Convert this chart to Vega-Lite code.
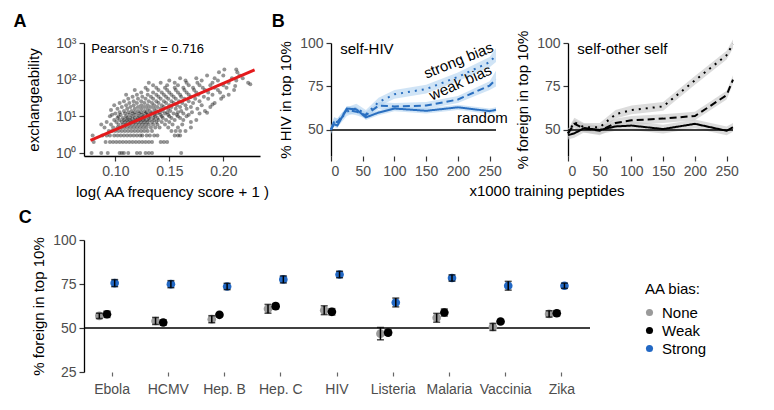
{
"$schema":"https://vega.github.io/schema/vega-lite/v6.json",
"background":"white",
"padding":{"left":13,"top":13,"right":0,"bottom":0},
"config":{
 "font":"Liberation Sans",
 "view":{"stroke":null},
 "axis":{"labelFont":"Liberation Sans","labelFontSize":14,"labelColor":"#4d4d4d","titleFont":"Liberation Sans","titleFontSize":15,"titleFontWeight":"normal","titleColor":"#000","domainColor":"#000","domainWidth":1.3,"tickColor":"#333","tickWidth":1.2,"tickSize":5,"grid":false,"labelPadding":3},
 "title":{"font":"Liberation Sans","fontSize":18,"fontWeight":"bold","anchor":"start","color":"#000"},
 "legend":{"labelFont":"Liberation Sans","titleFont":"Liberation Sans"}
},
"datasets":{
 "scatter":[
{"x":0.078,"y":1},{"x":0.087,"y":1},{"x":0.093,"y":1},{"x":0.104,"y":1},{"x":0.106,"y":1},{"x":0.108,"y":1},{"x":0.112,"y":1},{"x":0.120,"y":1},{"x":0.123,"y":1},{"x":0.128,"y":1},{"x":0.131,"y":1},{"x":0.134,"y":1},{"x":0.161,"y":1},
{"x":0.080,"y":2},{"x":0.091,"y":2},{"x":0.095,"y":2},{"x":0.098,"y":2},{"x":0.101,"y":2},{"x":0.104,"y":2},{"x":0.107,"y":2},{"x":0.110,"y":2},{"x":0.113,"y":2},{"x":0.116,"y":2},{"x":0.119,"y":2},{"x":0.122,"y":2},{"x":0.125,"y":2},{"x":0.128,"y":2},{"x":0.131,"y":2},{"x":0.134,"y":2},{"x":0.142,"y":2},{"x":0.145,"y":2},{"x":0.148,"y":2},
{"x":0.079,"y":3},{"x":0.088,"y":3},{"x":0.092,"y":3},{"x":0.095,"y":3},{"x":0.099,"y":3},{"x":0.102,"y":3},{"x":0.105,"y":3},{"x":0.108,"y":3},{"x":0.111,"y":3},{"x":0.114,"y":3},{"x":0.117,"y":3},{"x":0.120,"y":3},{"x":0.123,"y":3},{"x":0.125,"y":3},{"x":0.129,"y":3},{"x":0.132,"y":3},{"x":0.136,"y":3},{"x":0.139,"y":3},{"x":0.155,"y":3},{"x":0.158,"y":3},{"x":0.160,"y":3},
{"x":0.094,"y":4},{"x":0.097,"y":4},{"x":0.100,"y":4},{"x":0.103,"y":4},{"x":0.106,"y":4},{"x":0.109,"y":4},{"x":0.112,"y":4},{"x":0.115,"y":4},{"x":0.118,"y":4},{"x":0.121,"y":4},{"x":0.124,"y":4},{"x":0.127,"y":4},{"x":0.130,"y":4},{"x":0.134,"y":4},{"x":0.152,"y":4},{"x":0.156,"y":4},{"x":0.160,"y":4},{"x":0.165,"y":4},
{"x":0.090,"y":5},{"x":0.098,"y":5},{"x":0.102,"y":5},{"x":0.105,"y":5},{"x":0.108,"y":5},{"x":0.111,"y":5},{"x":0.114,"y":5},{"x":0.117,"y":5},{"x":0.120,"y":5},{"x":0.123,"y":5},{"x":0.126,"y":5},{"x":0.129,"y":5},{"x":0.133,"y":5},{"x":0.137,"y":5},{"x":0.141,"y":5},{"x":0.149,"y":5},{"x":0.158,"y":5},{"x":0.170,"y":5},
{"x":0.087,"y":6},{"x":0.096,"y":6},{"x":0.103,"y":6},{"x":0.107,"y":6},{"x":0.110,"y":6},{"x":0.113,"y":6},{"x":0.116,"y":6},{"x":0.119,"y":6},{"x":0.122,"y":6},{"x":0.125,"y":6},{"x":0.128,"y":6},{"x":0.131,"y":6},{"x":0.135,"y":6},{"x":0.139,"y":6},{"x":0.146,"y":6},{"x":0.153,"y":6},{"x":0.162,"y":6},
{"x":0.092,"y":7},{"x":0.101,"y":7},{"x":0.106,"y":7},{"x":0.109,"y":7},{"x":0.112,"y":7},{"x":0.115,"y":7},{"x":0.118,"y":7},{"x":0.121,"y":7},{"x":0.124,"y":7},{"x":0.127,"y":7},{"x":0.130,"y":7},{"x":0.134,"y":7},{"x":0.138,"y":7},{"x":0.143,"y":7},{"x":0.150,"y":7},{"x":0.170,"y":7},
{"x":0.099,"y":8},{"x":0.104,"y":8},{"x":0.108,"y":8},{"x":0.111,"y":8},{"x":0.114,"y":8},{"x":0.117,"y":8},{"x":0.120,"y":8},{"x":0.123,"y":8},{"x":0.126,"y":8},{"x":0.129,"y":8},{"x":0.132,"y":8},{"x":0.136,"y":8},{"x":0.140,"y":8},{"x":0.147,"y":8},{"x":0.155,"y":8},{"x":0.163,"y":8},{"x":0.175,"y":8},
{"x":0.102,"y":9},{"x":0.107,"y":9},{"x":0.111,"y":9},{"x":0.114,"y":9},{"x":0.118,"y":9},{"x":0.121,"y":9},{"x":0.124,"y":9},{"x":0.127,"y":9},{"x":0.131,"y":9},{"x":0.135,"y":9},{"x":0.139,"y":9},{"x":0.144,"y":9},{"x":0.152,"y":9},{"x":0.160,"y":9},
{"x":0.095,"y":10},{"x":0.103,"y":10},{"x":0.110,"y":10},{"x":0.116,"y":10},{"x":0.122,"y":10},{"x":0.126,"y":10},{"x":0.132,"y":10},{"x":0.137,"y":10},{"x":0.143,"y":10},{"x":0.150,"y":10},{"x":0.158,"y":10},{"x":0.166,"y":10},{"x":0.185,"y":12.6},
{"x":0.097,"y":11},{"x":0.105,"y":11},{"x":0.113,"y":11},{"x":0.119,"y":11},{"x":0.125,"y":11},{"x":0.130,"y":11},{"x":0.136,"y":11},{"x":0.142,"y":11},{"x":0.149,"y":11},{"x":0.157,"y":11},{"x":0.168,"y":11},
{"x":0.100,"y":12},{"x":0.109,"y":12},{"x":0.116,"y":12},{"x":0.122,"y":12},{"x":0.128,"y":12},{"x":0.133,"y":12},{"x":0.139,"y":12},{"x":0.146,"y":12},{"x":0.154,"y":12},{"x":0.163,"y":12},{"x":0.178,"y":12},
{"x":0.104,"y":13},{"x":0.112,"y":13},{"x":0.118,"y":13},{"x":0.124,"y":13},{"x":0.129,"y":13},{"x":0.135,"y":13},{"x":0.141,"y":13},{"x":0.148,"y":13},{"x":0.158,"y":13},{"x":0.171,"y":13},
{"x":0.096,"y":15},{"x":0.108,"y":14},{"x":0.115,"y":14},{"x":0.121,"y":14},{"x":0.127,"y":14},{"x":0.132,"y":14},{"x":0.138,"y":14},{"x":0.144,"y":14},{"x":0.151,"y":14},{"x":0.161,"y":14},{"x":0.183,"y":14},
{"x":0.102,"y":16},{"x":0.111,"y":16},{"x":0.118,"y":16},{"x":0.124,"y":16},{"x":0.130,"y":16},{"x":0.136,"y":16},{"x":0.142,"y":16},{"x":0.149,"y":16},{"x":0.156,"y":16},{"x":0.166,"y":16},{"x":0.176,"y":16},
{"x":0.106,"y":18},{"x":0.114,"y":18},{"x":0.121,"y":18},{"x":0.127,"y":18},{"x":0.133,"y":18},{"x":0.139,"y":18},{"x":0.145,"y":18},{"x":0.152,"y":18},{"x":0.160,"y":18},{"x":0.170,"y":18},{"x":0.188,"y":18},
{"x":0.099,"y":20},{"x":0.110,"y":20},{"x":0.117,"y":20},{"x":0.124,"y":20},{"x":0.130,"y":20},{"x":0.136,"y":20},{"x":0.143,"y":20},{"x":0.150,"y":20},{"x":0.157,"y":20},{"x":0.165,"y":20},{"x":0.180,"y":20},{"x":0.190,"y":21},
{"x":0.104,"y":23},{"x":0.113,"y":23},{"x":0.120,"y":23},{"x":0.127,"y":23},{"x":0.134,"y":23},{"x":0.140,"y":23},{"x":0.147,"y":23},{"x":0.154,"y":23},{"x":0.162,"y":23},{"x":0.172,"y":23},{"x":0.192,"y":23},
{"x":0.108,"y":26},{"x":0.117,"y":26},{"x":0.124,"y":26},{"x":0.131,"y":26},{"x":0.138,"y":26},{"x":0.145,"y":26},{"x":0.152,"y":26},{"x":0.159,"y":26},{"x":0.168,"y":26},{"x":0.178,"y":26},
{"x":0.112,"y":30},{"x":0.121,"y":30},{"x":0.128,"y":30},{"x":0.135,"y":30},{"x":0.142,"y":30},{"x":0.149,"y":30},{"x":0.156,"y":30},{"x":0.164,"y":30},{"x":0.174,"y":30},{"x":0.186,"y":30},{"x":0.198,"y":30},
{"x":0.116,"y":34},{"x":0.125,"y":34},{"x":0.133,"y":34},{"x":0.140,"y":34},{"x":0.147,"y":34},{"x":0.154,"y":34},{"x":0.161,"y":34},{"x":0.170,"y":34},{"x":0.182,"y":34},{"x":0.200,"y":35},
{"x":0.110,"y":39},{"x":0.120,"y":39},{"x":0.130,"y":39},{"x":0.138,"y":39},{"x":0.145,"y":39},{"x":0.152,"y":39},{"x":0.160,"y":39},{"x":0.168,"y":39},{"x":0.177,"y":39},{"x":0.190,"y":39},{"x":0.205,"y":39},
{"x":0.124,"y":45},{"x":0.135,"y":45},{"x":0.143,"y":45},{"x":0.150,"y":45},{"x":0.158,"y":45},{"x":0.166,"y":45},{"x":0.175,"y":45},{"x":0.186,"y":45},{"x":0.197,"y":45},
{"x":0.118,"y":52},{"x":0.130,"y":52},{"x":0.140,"y":52},{"x":0.148,"y":52},{"x":0.156,"y":52},{"x":0.164,"y":52},{"x":0.173,"y":52},{"x":0.183,"y":52},{"x":0.195,"y":52},{"x":0.210,"y":52},
{"x":0.128,"y":60},{"x":0.138,"y":60},{"x":0.146,"y":60},{"x":0.155,"y":60},{"x":0.163,"y":60},{"x":0.172,"y":60},{"x":0.181,"y":60},{"x":0.192,"y":60},{"x":0.203,"y":60},{"x":0.211,"y":67},
{"x":0.135,"y":70},{"x":0.148,"y":70},{"x":0.158,"y":70},{"x":0.168,"y":70},{"x":0.178,"y":70},{"x":0.188,"y":70},{"x":0.200,"y":70},{"x":0.225,"y":75},
{"x":0.131,"y":82},{"x":0.142,"y":82},{"x":0.155,"y":82},{"x":0.166,"y":82},{"x":0.176,"y":82},{"x":0.190,"y":82},{"x":0.205,"y":82},{"x":0.223,"y":82},
{"x":0.150,"y":95},{"x":0.165,"y":95},{"x":0.180,"y":95},{"x":0.195,"y":95},{"x":0.212,"y":95},
{"x":0.160,"y":110},{"x":0.175,"y":110},{"x":0.192,"y":110},{"x":0.208,"y":110},{"x":0.218,"y":110},
{"x":0.185,"y":130},{"x":0.200,"y":130},{"x":0.215,"y":130},
{"x":0.196,"y":160},{"x":0.213,"y":160},{"x":0.201,"y":190},{"x":0.212,"y":190}
 ],
 "fit":[{"x":0.077,"y":2.2},{"x":0.229,"y":185}],
 "annA":[{"x":0.0778,"y":680,"label":"Pearson's r = 0.716"}],
 "hiv":[
{"bias":"random","x":0,"y":50.4,"lo":49,"hi":52},{"bias":"random","x":5,"y":53.3,"lo":51.8,"hi":54.8},{"bias":"random","x":10,"y":52.5,"lo":51,"hi":54},{"bias":"random","x":25,"y":62.3,"lo":60.8,"hi":63.8},{"bias":"random","x":40,"y":61.8,"lo":60.3,"hi":63.3},{"bias":"random","x":55,"y":57.2,"lo":55.7,"hi":58.7},{"bias":"random","x":75,"y":60,"lo":58.5,"hi":61.5},{"bias":"random","x":100,"y":62.3,"lo":60.8,"hi":63.8},{"bias":"random","x":150,"y":61,"lo":59.5,"hi":62.5},{"bias":"random","x":200,"y":63,"lo":61.5,"hi":64.5},{"bias":"random","x":250,"y":60.8,"lo":59.3,"hi":62.3},{"bias":"random","x":260,"y":61.6,"lo":60.1,"hi":63.1},
{"bias":"weak","x":0,"y":50,"lo":48,"hi":52},{"bias":"weak","x":5,"y":55,"lo":53,"hi":57},{"bias":"weak","x":10,"y":54.5,"lo":52.5,"hi":56.5},{"bias":"weak","x":25,"y":61.5,"lo":59.5,"hi":63.5},{"bias":"weak","x":40,"y":60.5,"lo":58.5,"hi":62.5},{"bias":"weak","x":55,"y":58.5,"lo":56.5,"hi":60.5},{"bias":"weak","x":75,"y":64,"lo":62,"hi":66},{"bias":"weak","x":100,"y":63.5,"lo":61.5,"hi":65.5},{"bias":"weak","x":150,"y":64,"lo":62,"hi":66},{"bias":"weak","x":200,"y":67.5,"lo":65.5,"hi":69.5},{"bias":"weak","x":250,"y":75.5,"lo":73,"hi":78},{"bias":"weak","x":260,"y":79,"lo":75,"hi":84},
{"bias":"strong","x":0,"y":50,"lo":47.5,"hi":52.5},{"bias":"strong","x":5,"y":55,"lo":52.5,"hi":57.5},{"bias":"strong","x":10,"y":54,"lo":51.5,"hi":56.5},{"bias":"strong","x":25,"y":60.5,"lo":58,"hi":63},{"bias":"strong","x":40,"y":62.5,"lo":60,"hi":65},{"bias":"strong","x":55,"y":59,"lo":56.5,"hi":61.5},{"bias":"strong","x":75,"y":66,"lo":63.5,"hi":68.5},{"bias":"strong","x":100,"y":70.5,"lo":68,"hi":73},{"bias":"strong","x":150,"y":73.5,"lo":71,"hi":76},{"bias":"strong","x":200,"y":80.5,"lo":78,"hi":83},{"bias":"strong","x":250,"y":89,"lo":86,"hi":92},{"bias":"strong","x":260,"y":93,"lo":89,"hi":97}
 ],
 "other":[
{"bias":"random","x":0,"y":47,"lo":44.5,"hi":49.5},{"bias":"random","x":10,"y":48,"lo":45.5,"hi":50.5},{"bias":"random","x":25,"y":51,"lo":48.5,"hi":53.5},{"bias":"random","x":50,"y":50,"lo":47.5,"hi":52.5},{"bias":"random","x":75,"y":52,"lo":49.5,"hi":54.5},{"bias":"random","x":100,"y":52.5,"lo":50,"hi":55},{"bias":"random","x":150,"y":50.5,"lo":48,"hi":53},{"bias":"random","x":200,"y":53.5,"lo":51,"hi":56},{"bias":"random","x":250,"y":49.5,"lo":47,"hi":52},{"bias":"random","x":260,"y":51.5,"lo":49,"hi":54},
{"bias":"weak","x":0,"y":48,"lo":45.5,"hi":50.5},{"bias":"weak","x":10,"y":53.5,"lo":51,"hi":56},{"bias":"weak","x":25,"y":51,"lo":48.5,"hi":53.5},{"bias":"weak","x":50,"y":49.5,"lo":47,"hi":52},{"bias":"weak","x":75,"y":54,"lo":51.5,"hi":56.5},{"bias":"weak","x":100,"y":55.5,"lo":53,"hi":58},{"bias":"weak","x":150,"y":56.5,"lo":54,"hi":59},{"bias":"weak","x":200,"y":58,"lo":55.5,"hi":60.5},{"bias":"weak","x":250,"y":70,"lo":67.5,"hi":72.5},{"bias":"weak","x":260,"y":79,"lo":76.5,"hi":81.5},
{"bias":"strong","x":0,"y":48,"lo":45.5,"hi":50.5},{"bias":"strong","x":10,"y":54.5,"lo":52,"hi":57},{"bias":"strong","x":25,"y":51.5,"lo":49,"hi":54},{"bias":"strong","x":50,"y":51.5,"lo":49,"hi":54},{"bias":"strong","x":75,"y":59,"lo":56.5,"hi":61.5},{"bias":"strong","x":100,"y":61.5,"lo":59,"hi":64},{"bias":"strong","x":150,"y":63.5,"lo":61,"hi":66},{"bias":"strong","x":200,"y":78.5,"lo":76,"hi":81},{"bias":"strong","x":250,"y":93,"lo":90.5,"hi":95.5},{"bias":"strong","x":260,"y":99.5,"lo":97,"hi":102}
 ],
 "annB1":[{"x":56.6,"y":96.5,"label":"self-HIV","angle":0},{"x":201,"y":90,"label":"strong bias","angle":-22},{"x":204,"y":77.2,"label":"weak bias","angle":-24},{"x":238.5,"y":56.7,"label":"random","angle":0}],
 "annB2":[{"x":85.7,"y":96.5,"label":"self-other self","angle":0}],
 "ref":[{"v":50}],
 "c":[
{"pathogen":"Ebola","bias":"None","y":56.9,"lo":55.4,"hi":58.4},{"pathogen":"Ebola","bias":"Weak","y":57.8,"lo":56,"hi":59.6},{"pathogen":"Ebola","bias":"Strong","y":75.5,"lo":73.5,"hi":77.5},
{"pathogen":"HCMV","bias":"None","y":54,"lo":52,"hi":56},{"pathogen":"HCMV","bias":"Weak","y":53.1,"lo":51.6,"hi":54.6},{"pathogen":"HCMV","bias":"Strong","y":74.9,"lo":72.9,"hi":76.9},
{"pathogen":"Hep. B","bias":"None","y":55,"lo":53,"hi":57},{"pathogen":"Hep. B","bias":"Weak","y":57.5,"lo":56.5,"hi":58.5},{"pathogen":"Hep. B","bias":"Strong","y":73.6,"lo":71.8,"hi":75.4},
{"pathogen":"Hep. C","bias":"None","y":60.9,"lo":58.4,"hi":63.4},{"pathogen":"Hep. C","bias":"Weak","y":62.4,"lo":60.9,"hi":63.9},{"pathogen":"Hep. C","bias":"Strong","y":77.6,"lo":75.6,"hi":79.6},
{"pathogen":"HIV","bias":"None","y":60.1,"lo":57.6,"hi":62.6},{"pathogen":"HIV","bias":"Weak","y":59.2,"lo":57.4,"hi":61},{"pathogen":"HIV","bias":"Strong","y":80.4,"lo":78.6,"hi":82.2},
{"pathogen":"Listeria","bias":"None","y":46.8,"lo":43.3,"hi":50.3},{"pathogen":"Listeria","bias":"Weak","y":47.4,"lo":45.9,"hi":48.9},{"pathogen":"Listeria","bias":"Strong","y":64.5,"lo":62,"hi":67},
{"pathogen":"Malaria","bias":"None","y":55.8,"lo":53.3,"hi":58.3},{"pathogen":"Malaria","bias":"Weak","y":58.8,"lo":56.8,"hi":60.8},{"pathogen":"Malaria","bias":"Strong","y":78.4,"lo":76.6,"hi":80.2},
{"pathogen":"Vaccinia","bias":"None","y":50.6,"lo":48.6,"hi":52.6},{"pathogen":"Vaccinia","bias":"Weak","y":53.7,"lo":52.7,"hi":54.7},{"pathogen":"Vaccinia","bias":"Strong","y":74,"lo":71.5,"hi":76.5},
{"pathogen":"Zika","bias":"None","y":58,"lo":56.2,"hi":59.8},{"pathogen":"Zika","bias":"Weak","y":58.4,"lo":56.9,"hi":59.9},{"pathogen":"Zika","bias":"Strong","y":74,"lo":72.5,"hi":75.5}
 ]
},
"vconcat":[
 {"hconcat":[
  {"hconcat":[
   {"width":176,"height":113,
    "title":{"text":"A","dx":-13,"offset":5},
    "layer":[
     {"data":{"name":"scatter"},"mark":{"type":"circle","size":16,"color":"#111","opacity":0.45},
      "encoding":{
       "x":{"field":"x","type":"quantitative","scale":{"domain":[0.071,0.234],"nice":false,"zero":false},"axis":{"values":[0.1,0.15,0.2],"format":".2f","title":"log( AA frequency score + 1 )","titlePadding":6}},
       "y":{"field":"y","type":"quantitative","scale":{"type":"log","domain":[0.83,1000],"nice":false},"axis":{"values":[1,10,100,1000],"labelExpr":"datum.value == 1 ? '10⁰' : datum.value == 10 ? '10¹' : datum.value == 100 ? '10²' : '10³'","title":"exchangeability","titlePadding":14}}}},
     {"data":{"name":"fit"},"mark":{"type":"line","color":"#e41a1c","strokeWidth":3},
      "encoding":{"x":{"field":"x","type":"quantitative"},"y":{"field":"y","type":"quantitative"}}},
     {"data":{"name":"annA"},"mark":{"type":"text","align":"left","baseline":"middle","fontSize":13,"color":"#000"},
      "encoding":{"x":{"field":"x","type":"quantitative"},"y":{"field":"y","type":"quantitative"},"text":{"field":"label"}}}
    ]}
  ]},
  {"hconcat":[
   {"width":165,"height":113,
    "title":{"text":"B","dx":-7,"offset":5},
    "layer":[
     {"data":{"name":"hiv"},"mark":{"type":"area","color":"#a9cdef","opacity":0.55},
      "encoding":{"x":{"field":"x","type":"quantitative","scale":{"domain":[0,260],"nice":false},"axis":{"values":[0,50,100,150,200,250],"labelOverlap":false,"domain":false,"title":null}},
       "y":{"field":"lo","type":"quantitative","scale":{"domain":[35,100],"nice":false,"zero":false},"axis":{"values":[50,75,100],"title":"% HIV in top 10%","titlePadding":6}},
       "y2":{"field":"hi"},"detail":{"field":"bias"}}},
     {"data":{"name":"ref"},"mark":{"type":"rule","color":"#000","strokeWidth":1.5},"encoding":{"y":{"field":"v","type":"quantitative"}}},
     {"data":{"name":"hiv"},"mark":{"type":"line","color":"#2a6fc0","strokeWidth":2},
      "encoding":{"x":{"field":"x","type":"quantitative","axis":{"values":[0,50,100,150,200,250],"labelOverlap":false,"domain":false,"title":null}},"y":{"field":"y","type":"quantitative"},
       "strokeDash":{"field":"bias","type":"nominal","scale":{"domain":["random","weak","strong"],"range":[[1,0],[7,4],[2,5]]},"legend":null}}},
     {"data":{"name":"annB1"},"mark":{"type":"text","align":"center","baseline":"middle","fontSize":15,"color":"#000"},
      "encoding":{"x":{"field":"x","type":"quantitative","axis":{"values":[0,50,100,150,200,250],"labelOverlap":false,"domain":false,"title":null}},"y":{"field":"y","type":"quantitative"},"text":{"field":"label"},"angle":{"field":"angle","type":"quantitative","scale":null}}}
    ]},
   {"width":165,"height":113,
    "layer":[
     {"data":{"name":"other"},"mark":{"type":"area","color":"#c4c4c4","opacity":0.6},
      "encoding":{"x":{"field":"x","type":"quantitative","scale":{"domain":[0,260],"nice":false},"axis":{"values":[0,50,100,150,200,250],"labelOverlap":false,"domain":false,"title":null}},
       "y":{"field":"lo","type":"quantitative","scale":{"domain":[35,100],"nice":false,"zero":false},"axis":{"values":[50,75,100],"title":"% foreign in top 10%","titlePadding":6}},
       "y2":{"field":"hi"},"detail":{"field":"bias"}}},
     {"data":{"name":"ref"},"mark":{"type":"rule","color":"#000","strokeWidth":1.5},"encoding":{"y":{"field":"v","type":"quantitative"}}},
     {"data":{"name":"other"},"mark":{"type":"line","color":"#000","strokeWidth":2},
      "encoding":{"x":{"field":"x","type":"quantitative","axis":{"values":[0,50,100,150,200,250],"labelOverlap":false,"domain":false,"title":null}},"y":{"field":"y","type":"quantitative"},
       "strokeDash":{"field":"bias","type":"nominal","scale":{"domain":["random","weak","strong"],"range":[[1,0],[7,4],[2,5]]},"legend":null}}},
     {"data":{"name":"annB2"},"mark":{"type":"text","align":"center","baseline":"middle","fontSize":15,"color":"#000"},
      "encoding":{"x":{"field":"x","type":"quantitative","axis":{"values":[0,50,100,150,200,250],"labelOverlap":false,"domain":false,"title":null}},"y":{"field":"y","type":"quantitative"},"text":{"field":"label"}}}
    ]}
  ],
  "spacing":7,
  "title":{"text":"x1000 training peptides","orient":"bottom","anchor":"middle","fontSize":15,"fontWeight":"normal","offset":6,"dx":42}}
 ],
 "spacing":1},
 {"hconcat":[
  {"width":506,"height":132,
   "title":{"text":"C","dx":-13,"offset":6},
   "layer":[
    {"data":{"name":"ref"},"mark":{"type":"rule","color":"#000","strokeWidth":1.5},"encoding":{"y":{"field":"v","type":"quantitative","scale":{"domain":[25,100],"nice":false,"zero":false}}}},
    {"data":{"name":"c"},"mark":{"type":"point","filled":true,"opacity":1,"size":75},
     "encoding":{
      "x":{"field":"pathogen","type":"nominal","sort":null,"scale":{"type":"band","paddingInner":0,"paddingOuter":0},"axis":{"labelAngle":0,"domain":false,"title":null,"tickColor":"#666","tickSize":4,"labelPadding":6}},
      "xOffset":{"field":"bias","type":"nominal","sort":null,"scale":{"domain":["None","Weak","Strong"],"paddingInner":0,"paddingOuter":0,"range":[11.5,34.5]}},
      "y":{"field":"y","type":"quantitative","axis":{"values":[25,50,75,100],"title":"% foreign in top 10%","titlePadding":6}},
      "color":{"field":"bias","type":"nominal","scale":{"domain":["None","Weak","Strong"],"range":["#9a9a9a","#000000","#2268c4"]},
       "legend":{"title":"AA bias:","orient":"none","legendX":561,"legendY":42,"titleFontSize":15,"titleFontWeight":"normal","titleColor":"#000","labelFontSize":15,"labelColor":"#000","symbolType":"circle","symbolSize":50,"symbolStrokeWidth":0,"symbolOffset":-3,"rowPadding":2,"titlePadding":8,"labelOffset":5}}}},
    {"data":{"name":"c"},"mark":{"type":"rule","color":"#000","strokeWidth":1.5},
     "encoding":{"x":{"field":"pathogen","type":"nominal","sort":null},"xOffset":{"field":"bias","type":"nominal","sort":null},"y":{"field":"lo","type":"quantitative"},"y2":{"field":"hi"}}},
    {"data":{"name":"c"},"mark":{"type":"tick","orient":"horizontal","size":7,"thickness":1.5,"color":"#000"},
     "encoding":{"x":{"field":"pathogen","type":"nominal","sort":null},"xOffset":{"field":"bias","type":"nominal","sort":null},"y":{"field":"lo","type":"quantitative"}}},
    {"data":{"name":"c"},"mark":{"type":"tick","orient":"horizontal","size":7,"thickness":1.5,"color":"#000"},
     "encoding":{"x":{"field":"pathogen","type":"nominal","sort":null},"xOffset":{"field":"bias","type":"nominal","sort":null},"y":{"field":"hi","type":"quantitative"}}}
   ]}
 ],
 "resolve":{"scale":{"color":"independent"},"legend":{"color":"independent"}}}
],
"spacing":10,
"resolve":{"scale":{"color":"independent"},"legend":{"color":"independent"}}
}
